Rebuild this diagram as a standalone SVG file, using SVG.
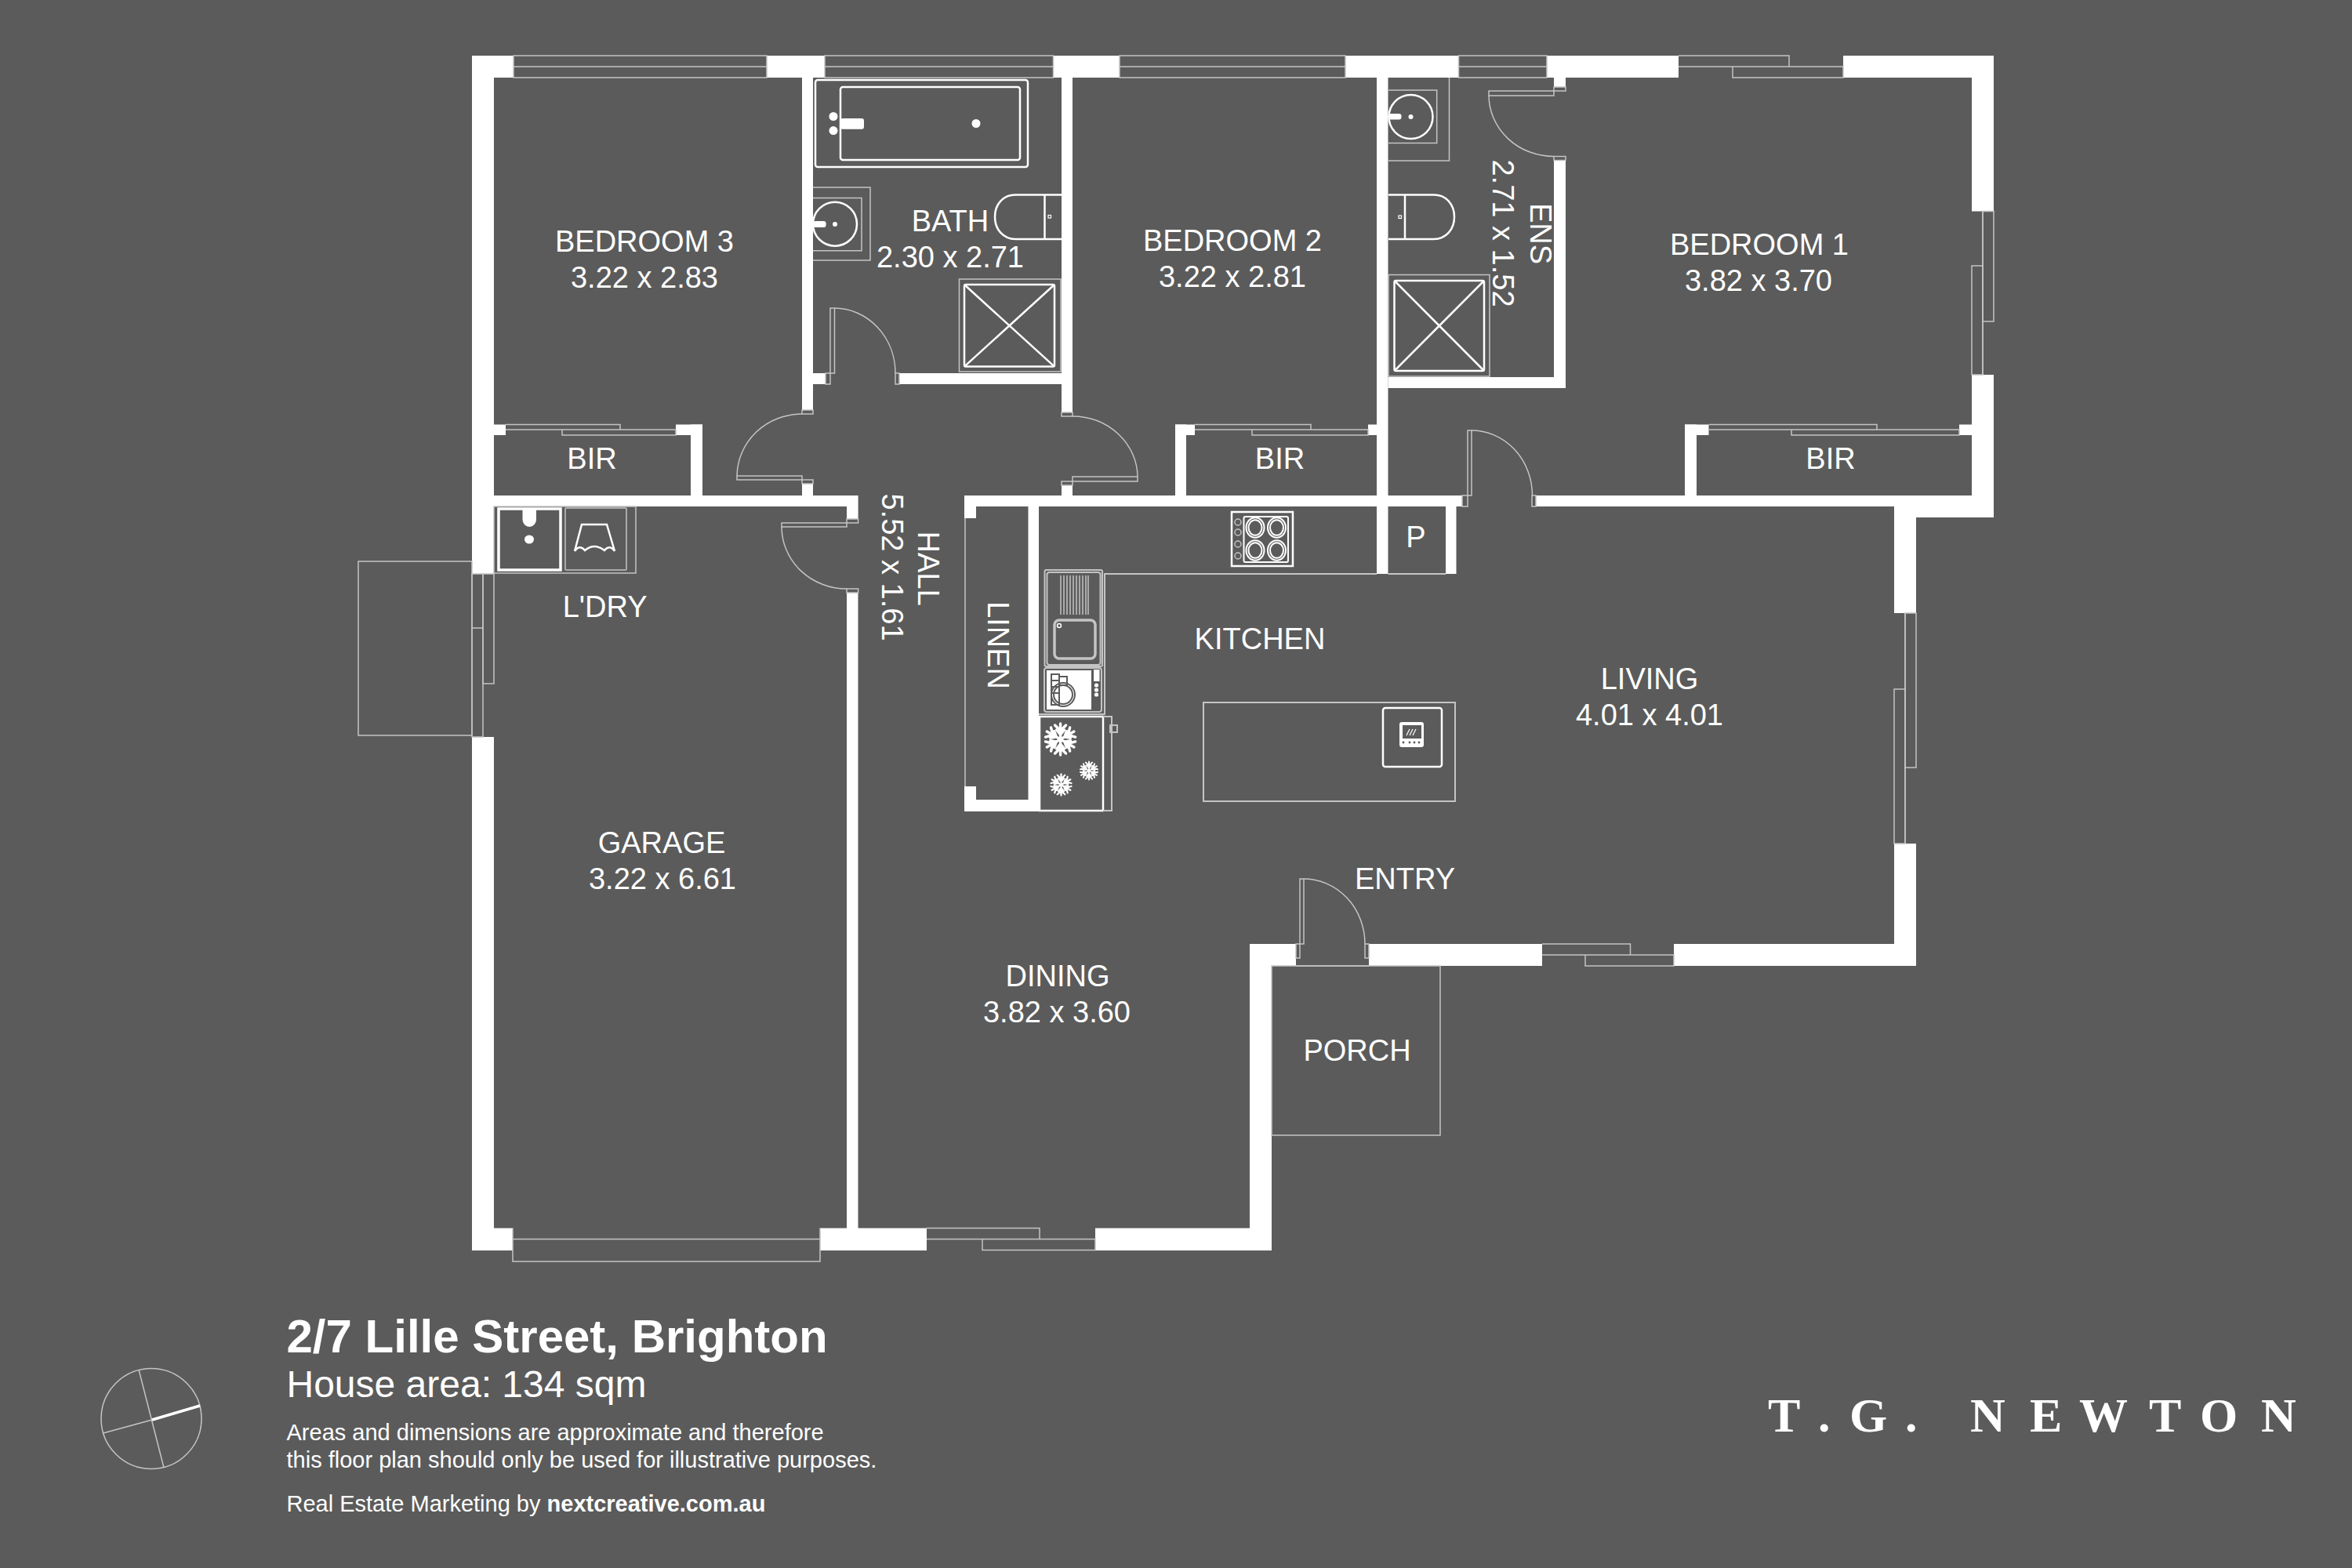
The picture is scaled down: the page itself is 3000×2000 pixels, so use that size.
<svg xmlns="http://www.w3.org/2000/svg" width="3000" height="2000" viewBox="0 0 3000 2000">
<style>
.w{fill:#fff}
.t{fill:none;stroke:#c4c4c4;stroke-width:1.5}
.j{fill:#5b5b5b;stroke:#c4c4c4;stroke-width:1.5}
.b{fill:none;stroke:#fff;stroke-width:2.5}
.d{fill:none;stroke:#5b5b5b;stroke-width:2}
.l{font-family:"Liberation Sans",Arial,sans-serif;font-size:38px;fill:#fff;text-anchor:middle}
.f{font-family:"Liberation Sans",Arial,sans-serif;fill:#fff}
</style>
<defs>
<g id="flake" fill="none" stroke="#fff" stroke-width="3.4" stroke-linecap="round">
<g id="arm"><path d="M0 0V-20M-7 -18L0 -11L7 -18M-5 -12L0 -6L5 -12"/></g>
<use href="#arm" transform="rotate(60)"/><use href="#arm" transform="rotate(120)"/><use href="#arm" transform="rotate(180)"/><use href="#arm" transform="rotate(240)"/><use href="#arm" transform="rotate(300)"/>
</g>
</defs>
<rect width="3000" height="2000" fill="#5b5b5b"/>

<g id="walls" class="w">
<rect x="602" y="71" width="53" height="28"/><rect x="978" y="71" width="74" height="28"/><rect x="1343.5" y="71" width="84.5" height="28"/><rect x="1716" y="71" width="144.5" height="28"/><rect x="1973" y="71" width="168" height="28"/><rect x="2351" y="71" width="192" height="28"/>
<rect x="602" y="71" width="28" height="661"/><rect x="602" y="940" width="28" height="655"/>
<rect x="602" y="1566.5" width="52" height="28.5"/><rect x="1046" y="1566.5" width="136" height="28.5"/><rect x="1397" y="1566.5" width="225" height="28.5"/>
<rect x="1080" y="751" width="14.5" height="830"/><rect x="1594" y="1204" width="28" height="391"/><rect x="1594" y="1204" width="59" height="28"/>
<rect x="1746" y="1204" width="221" height="28"/><rect x="2135" y="1204" width="309" height="28"/>
<rect x="2416" y="646" width="28" height="136"/><rect x="2416" y="1076" width="28" height="156"/>
<rect x="2444" y="632" width="99" height="28"/><rect x="2515" y="99" width="28" height="170.5"/><rect x="2515" y="478" width="28" height="182"/>
<rect x="630" y="632" width="464.6" height="14"/><rect x="1230" y="632" width="635" height="14"/><rect x="1959" y="632" width="485" height="14"/>
<rect x="1080" y="646" width="14.6" height="16"/>
<rect x="1023" y="99" width="14" height="424"/><rect x="1023" y="617" width="14" height="15"/><rect x="1354" y="99" width="14" height="427"/><rect x="1354" y="619" width="14" height="13"/>
<rect x="1037" y="476" width="16" height="14"/><rect x="1147" y="476" width="207" height="14"/>
<rect x="1756" y="99" width="14.5" height="633"/><rect x="1844" y="646" width="13.5" height="86"/>
<rect x="1982" y="99" width="15" height="12"/><rect x="1982" y="204.5" width="15" height="290.5"/><rect x="1770.5" y="481" width="226.5" height="14"/>
<rect x="630" y="541.5" width="15" height="13.5"/><rect x="862" y="541.5" width="34" height="13.5"/><rect x="881" y="541.5" width="15" height="90.5"/>
<rect x="1499" y="541.5" width="25" height="13.5"/><rect x="1499" y="541.5" width="14" height="90.5"/><rect x="1745" y="541.5" width="11" height="13.5"/>
<rect x="2149" y="541.5" width="30.5" height="13.5"/><rect x="2149" y="541.5" width="15" height="90.5"/><rect x="2499" y="541.5" width="16" height="13.5"/>
<rect x="1230" y="646" width="15" height="15"/><rect x="1230" y="1003" width="15" height="32"/><rect x="1230" y="1020" width="95" height="15"/><rect x="1311.5" y="646" width="13.5" height="389"/>
</g>

<g id="windows" class="t">
<rect x="655" y="71" width="323" height="28"/><path d="M655 85H978"/>
<rect x="1052" y="71" width="291.5" height="28"/><path d="M1052 85H1343.5"/>
<rect x="1428" y="71" width="288" height="28"/><path d="M1428 85H1716"/>
<rect x="1860.5" y="71" width="112.5" height="28"/><path d="M1860.5 85H1973"/>
<path d="M2141 71H2282V85H2141M2210 85V99H2351V85H2210"/>
<rect x="2529" y="269.5" width="14" height="140.5"/><rect x="2515" y="339" width="14" height="139"/><path d="M2529 269.5V478"/>
<rect x="2430" y="782" width="14" height="197"/><rect x="2416" y="879" width="14" height="197"/><path d="M2430 782V1076"/>
<rect x="602" y="732" width="14" height="208"/><path d="M602 801H616"/><rect x="616" y="732" width="14" height="140"/>
<rect x="457" y="716" width="145" height="222"/>
<rect x="654" y="1580.5" width="392" height="28.5"/><path d="M654 1566.5V1580.5M1046 1566.5V1580.5"/>
<path d="M1182 1566.5H1326V1580.5H1182M1253 1580.5V1594.6H1397V1580.5H1253"/>
<path d="M1967 1204H2079.5V1218H1967M2022 1218V1232H2135V1218H2022"/>
<rect x="1622" y="1232" width="215" height="216"/>
<path d="M1653 1232H1746"/>
<path d="M645 541.5H791V548H645M717 548V555H862V548H717"/>
<path d="M1524 541.5H1672V548H1524M1597 548V555H1745V548H1597"/>
<path d="M2179.5 541.5H2394V548H2179.5M2285 548V555H2499V548H2285"/>
<path d="M1231 661V1003"/>
</g>

<g id="doors">
<g id="door-bath"><rect class="j" x="1053" y="476" width="6" height="14"/><rect class="j" x="1142" y="476" width="5" height="14"/><rect class="t" x="1059" y="393" width="5.5" height="83"/><path class="t" d="M1064.5 393A78 83 0 0 1 1142 476"/></g>
<g id="door-bed3"><rect class="j" x="1023" y="523" width="14" height="5"/><rect class="j" x="1023" y="612" width="14" height="5"/><rect class="t" x="940" y="607" width="83" height="5"/><path class="t" d="M1023 528A83 80 0 0 0 940 607"/></g>
<g id="door-bed2"><rect class="j" x="1354" y="526" width="14" height="5"/><rect class="j" x="1354" y="614" width="14" height="5"/><rect class="t" x="1368" y="608" width="83" height="6"/><path class="t" d="M1368 531A83 78 0 0 1 1451 608"/></g>
<g id="door-garage"><rect class="j" x="1080" y="662" width="14.6" height="5"/><rect class="j" x="1080" y="751" width="14.6" height="5"/><rect class="t" x="997" y="667" width="83" height="5"/><path class="t" d="M997 672A83 79 0 0 0 1080 751"/></g>
<g id="door-ens"><rect class="j" x="1982" y="111" width="15" height="5"/><rect class="j" x="1982" y="199.5" width="15" height="5"/><rect class="t" x="1899" y="116" width="83" height="6"/><path class="t" d="M1899 122A83 78 0 0 0 1982 199.5"/></g>
<g id="door-bed1"><rect class="j" x="1865" y="632" width="7" height="14"/><rect class="j" x="1954" y="632" width="5" height="14"/><rect class="t" x="1872" y="549" width="5" height="83"/><path class="t" d="M1877 549A77.5 83 0 0 1 1954.5 632"/></g>
<g id="door-entry"><rect class="j" x="1653" y="1204" width="5" height="18"/><rect class="j" x="1741" y="1204" width="5" height="18"/><rect class="t" x="1658" y="1121" width="5" height="83"/><path class="t" d="M1663 1121A78 83 0 0 1 1741 1204"/></g>
</g>

<g id="bath-fixtures">
<rect class="b" x="1040" y="102" width="271" height="111" rx="3"/><rect class="b" x="1072" y="111" width="229" height="93" rx="3"/>
<circle class="w" cx="1063" cy="148.5" r="5.5"/><circle class="w" cx="1063" cy="166.6" r="5.5"/><rect class="w" x="1072" y="151" width="30" height="13.7" rx="3"/><circle class="w" cx="1245" cy="157.5" r="5.5"/>
<path class="t" d="M1037 239H1110V332H1037M1037 252.5H1099V319.7H1037"/><circle class="b" cx="1065" cy="285.7" r="28"/><rect class="w" x="1037" y="282" width="16.6" height="8" rx="3"/><circle class="w" cx="1065" cy="286" r="3"/>
<path class="b" stroke-width="2" d="M1354 248.5H1295C1280 248.5 1269 260 1269 276.75C1269 293 1280 305 1295 305H1354M1332.5 248.5V305"/><rect class="b" style="stroke-width:1.2" x="1337" y="274.5" width="3.5" height="3.5"/>
<rect class="t" x="1223.5" y="356" width="129.5" height="118"/><rect class="b" x="1230" y="363" width="115" height="104.6" rx="2"/><path class="b" d="M1230 363L1345 467.6M1345 363L1230 467.6"/>
</g>

<g id="ens-fixtures">
<path class="t" d="M1848.5 99V205H1771M1771 115H1832.7V182.5H1771"/><circle class="b" cx="1799.5" cy="149" r="28"/><rect class="w" x="1771" y="145" width="16.5" height="7.5" rx="3"/><circle class="w" cx="1799.5" cy="149" r="3"/>
<path class="b" d="M1771 248.5H1829C1844 248.5 1855 260 1855 276.75C1855 293 1844 305 1829 305H1771M1792 248.5V305"/><rect class="b" style="stroke-width:1.2" x="1784" y="275" width="3.5" height="3.5"/>
<rect class="t" x="1771" y="350.5" width="129" height="129.5"/><rect class="b" x="1778.5" y="358" width="114.5" height="115" rx="2"/><path class="b" d="M1778.5 358L1893 473M1893 358L1778.5 473"/>
</g>

<g id="laundry">
<rect class="t" x="630" y="646" width="181" height="85"/>
<rect class="b" style="stroke-width:3.5" x="636" y="649" width="79" height="78"/>
<path class="w" d="M666.5 649H684V663A8.75 9 0 0 1 666.5 663Z"/><ellipse class="w" cx="675" cy="688" rx="6" ry="5.5"/>
<rect class="t" x="721" y="648" width="78" height="79" rx="1"/>
<path class="b" d="M733 703L742 669H774L784 703M733 703Q739 694 746 702Q758 692 771 702Q778 694 784 703"/>
</g>

<g id="kitchen">
<path class="t" style="stroke-width:2" d="M1325 911H1409V732H1756M1770.5 732H1844"/>
<rect class="t" style="stroke-width:2" x="1332.5" y="727" width="73.5" height="123" rx="2"/><rect class="t" style="stroke-width:2" x="1335.5" y="730" width="68" height="118" rx="3"/>
<path class="t" d="M1353 734V784M1357 734V784M1361 734V784M1365 734V784M1369 734V784M1373 734V784M1377 734V784M1381 734V784M1385 734V784M1388 734V784"/>
<rect class="t" style="stroke-width:3.5" x="1345" y="791" width="52" height="49" rx="6"/><circle class="b" style="stroke-width:1.5" cx="1351" cy="798" r="2.5"/>
<rect class="t" style="stroke-width:2" x="1332" y="852" width="73" height="56" rx="3"/>
<rect class="w" x="1335" y="855" width="57" height="50"/>
<rect class="w" x="1395" y="854" width="7.5" height="15"/><circle class="w" cx="1398.5" cy="874" r="2.6"/><circle class="w" cx="1398.5" cy="880" r="2.6"/><circle class="w" cx="1398.5" cy="886" r="2.6"/>
<path class="d" d="M1341 860H1351V899H1341ZM1341 868H1351M1341 876H1351M1341 884H1351M1352 863H1361V874H1352"/>
<circle class="d" cx="1356" cy="886" r="15"/><circle class="d" cx="1356" cy="886" r="12"/>
<rect class="b" x="1326" y="914" width="81" height="120"/>
<path class="t" style="stroke-width:2" d="M1407 914H1418V1034H1407"/><rect class="t" style="stroke-width:2" x="1416" y="925" width="9" height="9" fill="none"/>
<use href="#flake" transform="translate(1352.6 943)"/>
<use href="#flake" transform="translate(1389 983) scale(.58)"/>
<use href="#flake" transform="translate(1353.5 1001) scale(.68)"/>
<rect class="b" x="1571" y="653" width="78" height="69"/><rect class="b" style="stroke-width:2" x="1586.5" y="659" width="56.5" height="58" rx="2"/>
<g class="b" style="stroke-width:2"><ellipse cx="1601" cy="673" rx="11.5" ry="12.7"/><ellipse cx="1628.5" cy="673" rx="11.5" ry="12.7"/><ellipse cx="1601" cy="702" rx="11.5" ry="12.7"/><ellipse cx="1628.5" cy="702" rx="11.5" ry="12.7"/><ellipse cx="1601" cy="673" rx="8.5" ry="9.7"/><ellipse cx="1628.5" cy="673" rx="8.5" ry="9.7"/><ellipse cx="1601" cy="702" rx="8.5" ry="9.7"/><ellipse cx="1628.5" cy="702" rx="8.5" ry="9.7"/></g>
<g class="t"><circle cx="1579" cy="666" r="4"/><circle cx="1579" cy="679" r="4"/><circle cx="1579" cy="694" r="4"/><circle cx="1579" cy="709" r="4"/></g>
<rect class="t" style="stroke-width:2" x="1535" y="896" width="321" height="126"/>
<rect class="b" x="1764" y="903" width="75" height="75" rx="3"/>
<rect class="w" x="1785" y="921" width="31" height="32" rx="3"/><rect fill="#5b5b5b" x="1789" y="925" width="24" height="17"/>
<path stroke="#fff" stroke-width="1.2" fill="none" d="M1794 938L1798 930M1798 938L1802 930M1802 938L1806 930"/>
<g fill="#5b5b5b"><circle cx="1790" cy="947" r="1.4"/><circle cx="1798" cy="947" r="1.4"/><circle cx="1804" cy="947" r="1.4"/><circle cx="1810" cy="947" r="1.4"/></g>
</g>

<g id="labels" class="l">
<text x="822" y="321">BEDROOM 3</text><text x="822" y="367">3.22 x 2.83</text>
<text x="1212" y="295">BATH</text><text x="1212" y="341">2.30 x 2.71</text>
<text x="1572" y="320">BEDROOM 2</text><text x="1572" y="366">3.22 x 2.81</text>
<text x="2244" y="325">BEDROOM 1</text><text x="2243" y="371">3.82 x 3.70</text>
<text x="755" y="598">BIR</text><text x="1632.5" y="598">BIR</text><text x="2335" y="598">BIR</text>
<text transform="translate(1951.5 298) rotate(90)">ENS</text><text transform="translate(1904 297.5) rotate(90)">2.71 x 1.52</text>
<text transform="translate(1171 725) rotate(90)">HALL</text><text transform="translate(1125 723.5) rotate(90)">5.52 x 1.61</text>
<text transform="translate(1260 823) rotate(90)">LINEN</text>
<text x="771.6" y="787">L'DRY</text>
<text x="844" y="1088">GARAGE</text><text x="845" y="1134">3.22 x 6.61</text>
<text x="1349" y="1257.5">DINING</text><text x="1348" y="1304">3.82 x 3.60</text>
<text x="1731" y="1353">PORCH</text><text x="1792" y="1134">ENTRY</text><text x="1607" y="828">KITCHEN</text>
<text x="2104" y="879">LIVING</text><text x="2104" y="924.5">4.01 x 4.01</text>
<text x="1806" y="698">P</text>
</g>

<g id="compass">
<circle class="t" cx="193" cy="1809.5" r="64"/>
<path class="t" d="M177 1747L209 1872M131.5 1828L194 1811"/>
<path stroke="#fff" stroke-width="3.5" d="M194 1811L255 1793"/>
</g>

<g id="caption" class="f">
<text x="365.5" y="1725" font-size="60" font-weight="bold">2/7 Lille Street, Brighton</text>
<text x="365.5" y="1781.5" font-size="48">House area: 134 sqm</text>
<text x="365.5" y="1837" font-size="29">Areas and dimensions are approximate and therefore</text>
<text x="365.5" y="1872" font-size="29">this floor plan should only be used for illustrative purposes.</text>
<text x="365.5" y="1928" font-size="29">Real Estate Marketing by <tspan font-weight="bold">nextcreative.com.au</tspan></text>
</g>

<text id="brand" font-family="'Liberation Serif','Times New Roman',serif" font-weight="bold" font-size="62" fill="#fff" y="1826" x="2255 2319 2359 2430 2470 2513 2589 2652 2741 2806 2884">T.G. NEWTON</text>
</svg>
